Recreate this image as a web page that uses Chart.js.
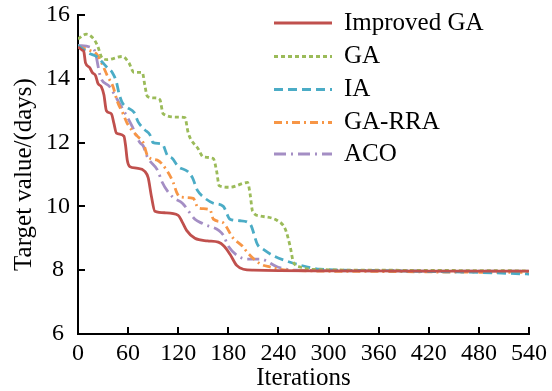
<!DOCTYPE html>
<html>
<head>
<meta charset="utf-8">
<script src="https://cdn.jsdelivr.net/npm/chart.js@4.4.1/dist/chart.umd.min.js"></script>
<style>
	html, body { margin: 0; padding: 0; background: #fff; }
	#chart { display: block; }
</style>
</head>
<body>
<canvas id="chart" width="552" height="391"></canvas>
<script>
const seriesNames = [ 'Improved GA', 'GA', 'IA', 'GA-RRA', 'ACO' ];
const xTicks = [ 0, 60, 120, 180, 240, 300, 360, 420, 480, 540 ];
const yTicks = [ 6, 8, 10, 12, 14, 16 ];

const improvedIters = [ 0, 5, 7, 9, 14, 17, 21, 24, 28, 31, 34, 40, 43, 46, 55, 57, 59, 62, 70, 80, 84, 88, 92, 105, 120, 125, 130, 140, 155, 168, 175, 182, 190, 198, 210, 300, 420, 540 ];
const improvedVals = [ 15.0, 14.9, 14.85, 14.5, 14.35, 14.2, 14.1, 13.85, 13.75, 13.5, 13.0, 12.9, 12.6, 12.3, 12.2, 11.9, 11.45, 11.25, 11.2, 11.1, 10.9, 10.3, 9.85, 9.8, 9.72, 9.5, 9.25, 9.0, 8.92, 8.88, 8.75, 8.5, 8.15, 8.03, 8.0, 7.98, 7.97, 7.97 ];

const gaIters = [ 0, 10, 17, 23, 29, 35, 53, 61, 67, 77, 80, 83, 92, 98, 102, 119, 128, 132, 144, 150, 162, 166, 169, 182, 203, 206, 209, 218, 239, 248, 254, 258, 266, 278, 360, 450, 540 ];
const gaVals = [ 15.25, 15.4, 15.3, 15.06, 14.65, 14.6, 14.7, 14.5, 14.2, 14.2, 13.8, 13.45, 13.4, 13.35, 12.9, 12.8, 12.78, 12.3, 11.8, 11.55, 11.5, 11.1, 10.65, 10.6, 10.75, 10.4, 9.85, 9.7, 9.55, 9.3, 8.75, 8.25, 8.1, 8.03, 8.0, 7.99, 7.98 ];

const iaIters = [ 0, 13, 22, 28, 35, 41, 46, 49, 53, 59, 67, 72, 80, 86, 90, 101, 107, 113, 120, 131, 137, 143, 150, 162, 174, 182, 194, 206, 215, 222, 234, 254, 275, 290, 360, 420, 480, 540 ];
const iaVals = [ 15.05, 14.8, 14.7, 14.55, 14.35, 14.2, 13.9, 13.55, 13.25, 13.1, 12.95, 12.65, 12.4, 12.25, 12.0, 11.95, 11.6, 11.5, 11.25, 11.1, 10.9, 10.5, 10.3, 10.1, 10.0, 9.6, 9.55, 9.45, 8.8, 8.65, 8.45, 8.25, 8.1, 8.03, 7.99, 7.96, 7.93, 7.88 ];

const rraIters = [ 0, 13, 23, 30, 35, 42, 47, 54, 59, 71, 78, 84, 95, 107, 114, 118, 122, 138, 144, 158, 162, 173, 186, 197, 203, 218, 230, 250, 360, 450, 540 ];
const rraVals = [ 15.0, 14.9, 14.75, 14.4, 14.1, 13.75, 13.3, 12.9, 12.6, 12.2, 12.0, 11.55, 11.45, 11.1, 10.75, 10.45, 10.3, 10.25, 9.95, 9.9, 9.6, 9.5, 9.0, 8.75, 8.55, 8.2, 8.1, 8.0, 7.96, 7.94, 7.93 ];

const acoIters = [ 0, 18, 21, 24, 27, 38, 47, 59, 65, 74, 78, 83, 96, 100, 113, 125, 140, 150, 174, 180, 203, 218, 239, 260, 360, 450, 540 ];
const acoVals = [ 15.05, 14.95, 14.8, 14.4, 14.05, 13.75, 13.35, 12.8, 12.5, 12.0, 11.9, 11.55, 11.1, 10.8, 10.3, 10.1, 9.6, 9.45, 9.1, 8.75, 8.35, 8.35, 8.1, 8.0, 7.98, 7.97, 7.97 ];

const FONT = '"Liberation Serif", "Times New Roman", serif';

const styles = [
	{ color: '#C0504D', dash: [], width: 2.8 },
	{ color: '#9BBB59', dash: [ 4, 3 ], width: 2.8 },
	{ color: '#4BACC6', dash: [ 9, 5 ], width: 2.8 },
	{ color: '#F79646', dash: [ 8, 4, 2, 4 ], width: 2.8 },
	{ color: '#A48EC4', dash: [ 12, 5, 2, 5 ], width: 2.8 },
];

const toPoints = ( xs, ys ) => xs.map( ( x, i ) => ( { x, y: ys[ i ] } ) );
const allData = [
	toPoints( improvedIters, improvedVals ),
	toPoints( gaIters, gaVals ),
	toPoints( iaIters, iaVals ),
	toPoints( rraIters, rraVals ),
	toPoints( acoIters, acoVals ),
];

// legend drawn by hand, short line samples with text to the right
const legendPlugin = {
	id: 'lineLegend',
	afterDraw( chart ) {
		const ctx = chart.ctx;
		const rows = [ 23, 56.5, 89.5, 122.5, 154 ];
		ctx.save();
		chart.data.datasets.forEach( ( ds, i ) => {
			const y = rows[ i ];
			ctx.beginPath();
			ctx.strokeStyle = ds.borderColor;
			ctx.lineWidth = ds.borderWidth;
			ctx.setLineDash( ds.borderDash );
			ctx.moveTo( 274, y );
			ctx.lineTo( 332, y );
			ctx.stroke();
			ctx.setLineDash( [] );
			ctx.fillStyle = '#000';
			ctx.font = '25px ' + FONT;
			ctx.textBaseline = 'middle';
			ctx.textAlign = 'left';
			ctx.fillText( ds.label, 344, y );
		} );
		ctx.restore();
	},
};

new Chart( document.getElementById( 'chart' ), {
	type: 'line',
	data: {
		datasets: seriesNames.map( ( name, i ) => ( {
			label: name,
			data: allData[ i ],
			borderColor: styles[ i ].color,
			borderDash: styles[ i ].dash,
			borderWidth: styles[ i ].width,
			pointRadius: 0,
			fill: false,
			cubicInterpolationMode: 'monotone',
		} ) ),
	},
	options: {
		responsive: false,
		animation: false,
		layout: { padding: { left: 0, right: 23, top: 15, bottom: 0 } },
		plugins: {
			legend: { display: false },
			tooltip: { enabled: false },
		},
		scales: {
			x: {
				type: 'linear',
				min: 0,
				max: 540,
				afterBuildTicks: ( scale ) => {
					scale.ticks = xTicks.map( ( v ) => ( { value: v } ) );
				},
				grid: { drawOnChartArea: false, drawTicks: true, tickLength: -7, color: '#000', lineWidth: 2 },
				border: { color: '#000', width: 2 },
				ticks: { color: '#000', padding: 12, maxRotation: 0, font: { family: FONT, size: 24 } },
				title: {
					display: true,
					text: 'Iterations',
					color: '#000',
					padding: { top: 0, bottom: -2 },
					font: { family: FONT, size: 25 },
				},
				afterFit: ( scale ) => {
					scale.height = 57;
					scale.paddingLeft = 0;
					scale.paddingRight = 0;
				},
			},
			y: {
				min: 6,
				max: 16,
				afterBuildTicks: ( scale ) => {
					scale.ticks = yTicks.map( ( v ) => ( { value: v } ) );
				},
				grid: { drawOnChartArea: false, drawTicks: true, tickLength: -7, color: '#000', lineWidth: 2 },
				border: { color: '#000', width: 2 },
				ticks: { color: '#000', padding: 15, crossAlign: 'center', font: { family: FONT, size: 24 } },
				title: {
					display: true,
					text: 'Target value/(days)',
					color: '#000',
					padding: { top: 9, bottom: 0 },
					font: { family: FONT, size: 25 },
				},
				afterFit: ( scale ) => {
					scale.width = 78;
					scale.paddingTop = 0;
					scale.paddingBottom = 0;
				},
			},
		},
	},
	plugins: [ legendPlugin ],
} );
</script>
</body>
</html>
